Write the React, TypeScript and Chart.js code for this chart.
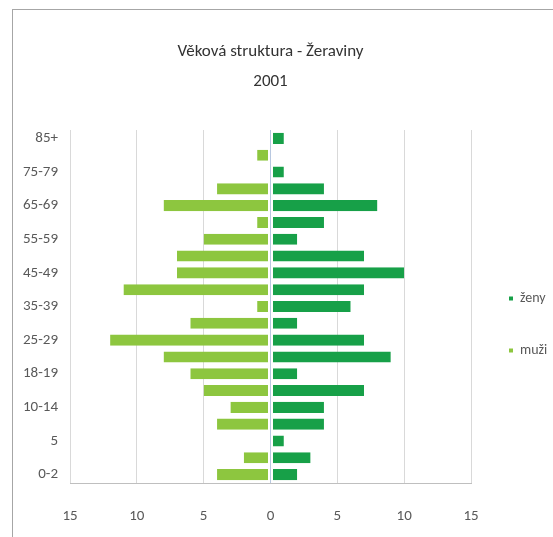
import React, { useEffect, useRef } from 'react';
import { Chart, registerables } from 'chart.js';

Chart.register(...registerables);

// Age groups from the bottom row (0-2) to the top row (85+)
const ageGroups = [
  '0-2', '3-4', '5', '6-9', '10-14', '15-17', '18-19', '20-24', '25-29', '30-34',
  '35-39', '40-44', '45-49', '50-54', '55-59', '60-64', '65-69', '70-74', '75-79', '80-84', '85+',
];
// ženy (women) – right side
const zenyValues = [2, 3, 1, 4, 4, 7, 2, 9, 7, 2, 6, 7, 10, 7, 2, 4, 8, 4, 1, 0, 1];
// muži (men) – left side
const muziValues = [4, 2, 0, 4, 3, 5, 6, 8, 12, 6, 1, 11, 7, 7, 5, 1, 8, 4, 0, 1, 0];
const seriesNames = ['ženy', 'muži'];
const titleLines = ['Věková struktura - Žeraviny', '2001'];
const xMin = -15;
const xMax = 15;
const xStep = 5;

const FONT = "Carlito, Lato, 'Liberation Sans', sans-serif";

export default function App() {
  const canvasRef = useRef<HTMLCanvasElement | null>(null);

  useEffect(() => {
    const canvas = canvasRef.current;
    if (!canvas) return;
    const chart = new Chart(canvas, {
      type: 'bar',
      data: {
        labels: ageGroups,
        datasets: [
          {
            label: seriesNames[0],
            data: zenyValues,
            backgroundColor: '#17a048',
            borderColor: 'rgba(0,0,0,0)',
            borderWidth: { left: 2, right: 0, top: 0, bottom: 0 },
            borderSkipped: false,
            categoryPercentage: 0.66,
            barPercentage: 1,
          },
          {
            label: seriesNames[1],
            data: muziValues.map((v) => -v),
            backgroundColor: '#8dc63f',
            borderColor: 'rgba(0,0,0,0)',
            borderWidth: { left: 0, right: 2, top: 0, bottom: 0 },
            borderSkipped: false,
            categoryPercentage: 0.66,
            barPercentage: 1,
          },
        ],
      },
      options: {
        indexAxis: 'y',
        responsive: false,
        animation: false,
        layout: { padding: { left: 12, top: 0, right: 0, bottom: 9 } },
        scales: {
          x: {
            stacked: true,
            min: xMin,
            max: xMax,
            ticks: {
              stepSize: xStep,
              padding: 3,
              color: '#595959',
              font: { family: FONT, size: 15 },
              callback: (v: any) => String(Math.abs(Number(v))),
            },
            grid: {
              drawTicks: true,
              tickLength: 21,
              tickColor: 'rgba(0,0,0,0)',
              color: (ctx: any) => (ctx.tick && ctx.tick.value === 0 ? '#b8c8e0' : '#d9d9d9'),
              lineWidth: 1,
            },
            border: { display: true, color: '#bfbfbf', width: 1 },
          },
          y: {
            stacked: true,
            reverse: true,
            afterFit: (scale: any) => {
              scale.width = 58;
            },
            ticks: {
              autoSkip: false,
              padding: 12,
              color: '#595959',
              font: { family: FONT, size: 15 },
              callback: (_v: any, idx: number) => (idx % 2 === 0 ? ageGroups[idx] : ''),
            },
            grid: { display: false, drawTicks: false },
            border: { display: false },
          },
        },
        plugins: {
          title: {
            display: true,
            text: titleLines,
            fullSize: false,
            color: '#333333',
            font: { family: FONT, size: 17, weight: 'normal', lineHeight: 30 / 17 },
            padding: { top: 37, bottom: 33 },
          },
          legend: {
            display: true,
            position: 'right',
            fullSize: false,
            maxWidth: 82,
            title: { display: true, text: '', font: { size: 12, lineHeight: 1 }, padding: 12 },
            labels: {
              boxWidth: 4,
              boxHeight: 4,
              padding: 38,
              color: '#595959',
              font: { family: FONT, size: 14 },
            },
          },
          tooltip: { enabled: false },
        },
      },
    });
    return () => chart.destroy();
  }, []);

  return (
    <div style={{ position: 'absolute', left: 0, top: 0, width: 553, height: 537, background: '#ffffff' }}>
      <div
        style={{
          position: 'absolute',
          left: 12,
          top: 9,
          right: 0,
          bottom: 0,
          borderLeft: '1.5px solid #a6a6a6',
          borderTop: '1.5px solid #a6a6a6',
        }}
      />
      <canvas
        ref={canvasRef}
        width={553}
        height={537}
        style={{ position: 'absolute', left: 0, top: 0, width: 553, height: 537 }}
      />
    </div>
  );
}
